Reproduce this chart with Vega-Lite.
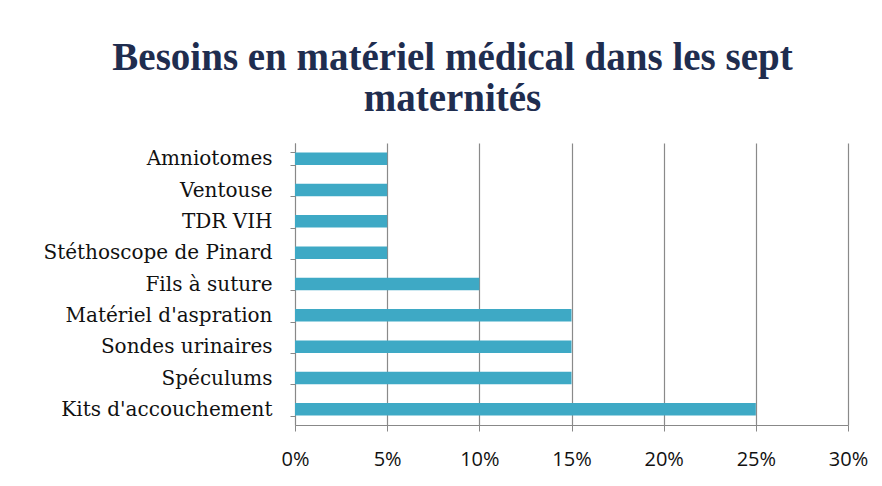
{
  "$schema": "https://vega.github.io/schema/vega-lite/v6.json",
  "width": 553,
  "height": 282,
  "autosize": "none",
  "padding": {"left": 295, "top": 143, "right": 34, "bottom": 61},
  "background": "white",
  "title": {
    "text": ["Besoins en matériel médical dans les sept", "maternités"],
    "font": "Liberation Serif",
    "fontSize": 39,
    "fontWeight": "bold",
    "color": "#1F2D4F",
    "anchor": "middle",
    "frame": "group",
    "dx": -119,
    "offset": 14,
    "lineHeight": 41
  },
  "data": {
    "values": [
      {"item": "Amniotomes", "value": 0.05},
      {"item": "Ventouse", "value": 0.05},
      {"item": "TDR VIH", "value": 0.05},
      {"item": "Stéthoscope de Pinard", "value": 0.05},
      {"item": "Fils à suture", "value": 0.10},
      {"item": "Matériel d'aspration", "value": 0.15},
      {"item": "Sondes urinaires", "value": 0.15},
      {"item": "Spéculums", "value": 0.15},
      {"item": "Kits d'accouchement", "value": 0.25}
    ]
  },
  "mark": {"type": "bar", "color": "#3EA9C5"},
  "encoding": {
    "y": {
      "field": "item",
      "type": "nominal",
      "sort": null,
      "title": null,
      "scale": {"paddingInner": 0.6, "paddingOuter": 0.3},
      "axis": {
        "labelFont": "DejaVu Serif",
        "labelFontSize": 20,
        "labelColor": "#111111",
        "labelPadding": 18,
        "labelLimit": 400,
        "tickBand": "extent",
        "tickSize": 5,
        "tickColor": "#888888",
        "domainColor": "#888888",
        "grid": false
      }
    },
    "x": {
      "field": "value",
      "type": "quantitative",
      "title": null,
      "scale": {"domain": [0, 0.3], "nice": false},
      "axis": {
        "values": [0, 0.05, 0.1, 0.15, 0.2, 0.25, 0.3],
        "format": ".0%",
        "labelFont": "Open Sans",
        "labelFontSize": 20,
        "labelColor": "#111111",
        "labelPadding": 18,
        "labelFlush": false,
        "labelOverlap": false,
        "tickSize": 6,
        "tickColor": "#888888",
        "domainColor": "#888888",
        "grid": true,
        "gridColor": "#8A8A8A",
        "gridWidth": 1.2
      }
    }
  },
  "config": {
    "view": {"stroke": null}
  }
}
